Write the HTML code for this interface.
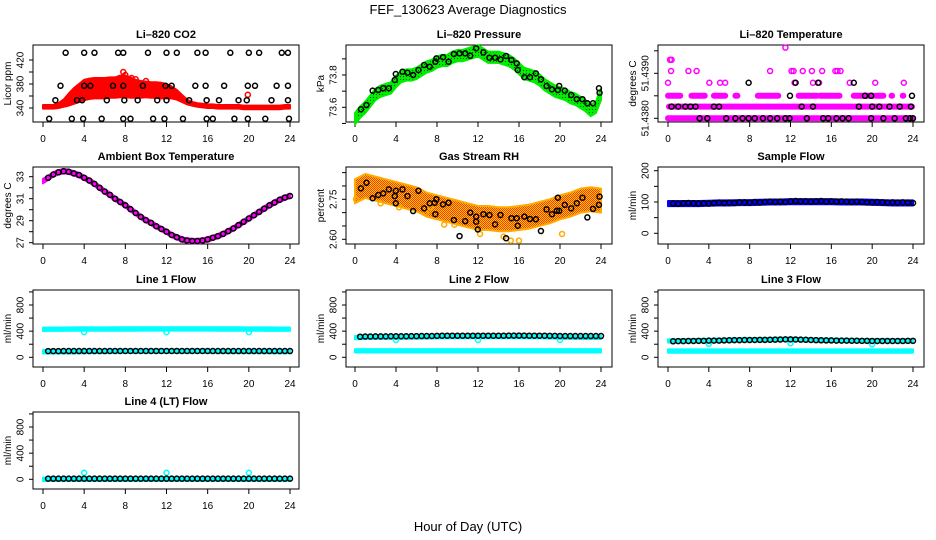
<!DOCTYPE html>
<html><head><meta charset="utf-8"><title>FEF_130623 Average Diagnostics</title>
<style>
html,body{margin:0;padding:0;background:#fff;}
svg{display:block;font-family:"Liberation Sans",Arial,sans-serif;}
</style></head>
<body>
<svg id="chart" width="936" height="540" viewBox="0 0 936 540" xmlns="http://www.w3.org/2000/svg">
<defs>
<pattern id="rhPat" width="2" height="2" patternUnits="userSpaceOnUse"><rect width="2" height="2" fill="#ffcc00"/><rect width="1" height="1" fill="#ff3300"/><rect x="1" y="1" width="1" height="1" fill="#ff3300"/></pattern>
<pattern id="grPat" width="3" height="3" patternUnits="userSpaceOnUse"><rect width="3" height="3" fill="#00ee00"/><rect x="1" y="1" width="1" height="1" fill="#004400"/></pattern>
</defs>
<rect width="936" height="540" fill="#fff"/>
<text x="468" y="14" text-anchor="middle" font-size="13">FEF_130623  Average Diagnostics</text>
<text x="468" y="531" text-anchor="middle" font-size="13">Hour of Day (UTC)</text>
</svg>
<script>
// ---------- data ----------
const xTicks=[0,4,8,12,16,20,24];
const halfHours=Array.from({length:49},(_,i)=>i*0.5);
const hourly=Array.from({length:25},(_,i)=>i);
const blackHours=Array.from({length:48},(_,i)=>0.5+i*0.5);

// CO2
const co2Center=[342,342,342,344,348,354,360,365,370,372,373,373,373,374,374,376,376,374,372,371,371,370,370,369,368,366,362,356,350,347,345,344,343,343,342,342,342,342,342,341,341,341,341,341,341,341,341,342,342];
const co2Spread=[3,3,3,4,6,10,13,15,17,17,17,17,17,17,17,18,18,17,15,14,13,13,13,13,12,10,8,6,4,3,3,3,3,3,3,3,3,3,3,3,3,3,3,3,3,3,3,3,3];
const co2RedOutliers=[[7.8,400],[8.0,395],[9.0,388],[10.0,385],[4.3,362],[12.7,368],[19.9,362],[8.6,390]];
const co2Black=[[2.2,432],[4,432],[5,432],[7.3,432],[7.8,432],[10.2,432],[12,432],[13,432],[15,432],[15.8,432],[18.2,432],[20,432],[21,432],[23.2,432],[23.8,432],
[1.7,377],[4,377],[4.6,377],[6.8,377],[7.8,377],[9.7,377],[11.9,377],[12.5,377],[14.8,377],[15.8,377],[17.6,377],[19.9,377],[20.6,377],[22.7,377],[23.8,377],
[1.2,353],[3.3,353],[3.8,353],[6.2,353],[7.9,353],[9.2,353],[11.1,353],[12,353],[14.2,353],[15.9,353],[17.1,353],[19,353],[19.8,353],[22.2,353],[23.8,353],
[0.6,322],[2.8,322],[3.9,322],[5.7,322],[7.8,322],[8.5,322],[10.7,322],[11.8,322],[13.6,322],[15.9,322],[16.5,322],[18.6,322],[19.9,322],[21.6,322],[23.9,322]];

// Pressure
const presCenter=[73.53,73.57,73.6,73.64,73.68,73.7,73.71,73.72,73.76,73.79,73.8,73.8,73.81,73.83,73.85,73.86,73.88,73.89,73.89,73.91,73.92,73.92,73.93,73.94,73.95,73.93,73.91,73.91,73.91,73.9,73.89,73.87,73.84,73.81,73.8,73.79,73.77,73.74,73.72,73.7,73.69,73.68,73.66,73.65,73.63,73.61,73.58,73.6,73.68];
const presSpread=0.035;
const presBlack=[[0.58,73.588],[1.12,73.614],[1.72,73.703],[2.27,73.707],[2.75,73.718],[3.3,73.718],[3.88,73.769],[3.98,73.806],[4.63,73.82],[5.12,73.814],[5.67,73.8],[6.19,73.831],[6.74,73.862],[7.29,73.851],[7.84,73.882],[7.94,73.903],[8.59,73.91],[9.13,73.882],[9.65,73.93],[10.2,73.934],[10.75,73.934],[11.24,73.919],[11.82,73.965],[12.53,73.94],[13.12,73.907],[13.67,73.907],[14.19,73.897],[14.74,73.918],[15.26,73.893],[15.78,73.872],[15.88,73.831],[16.52,73.786],[17.07,73.786],[17.65,73.81],[18.14,73.773],[18.69,73.732],[19.21,73.711],[19.79,73.707],[19.92,73.732],[20.47,73.703],[21.09,73.676],[21.64,73.65],[22.19,73.65],[22.67,73.625],[23.22,73.625],[23.8,73.718],[23.86,73.69]];

// Li-820 temperature (magenta runs: start, end, value)
const tempRuns=[[0,23.9,51.4380],[0.1,23.9,51.43826],[0,1.2,51.4385],[2.3,3.6,51.4385],[4.5,5.6,51.4385],[6.6,6.8,51.4385],[8.8,10.8,51.4385],[12.8,14.6,51.4385],[14.9,16.8,51.4385],[18.2,20.1,51.4385],[20.4,21.1,51.4385],[21.9,21.95,51.4385],[23.0,23.05,51.4385]];
const tempMagentaPts=[[0,51.43879],[4.05,51.43879],[5.1,51.43879],[5.6,51.43879],[12.4,51.43879],[14.2,51.43879],[14.8,51.43879],[17.8,51.43879],[20.3,51.43879],[23.1,51.43879],
[0.3,51.43905],[2.0,51.43905],[2.8,51.43905],[10.0,51.43905],[12.1,51.43905],[12.3,51.43905],[13.2,51.43905],[14.1,51.43905],[15.1,51.43905],[16.4,51.43905],[16.6,51.43905],[16.9,51.43905],
[0.2,51.4393],[0.35,51.4393],[11.5,51.43957]];
const tempBlack=[[3.1,51.438],[3.85,51.438],[5.7,51.438],[6.6,51.438],[7.3,51.438],[7.9,51.438],[8.5,51.438],[9.3,51.438],[10,51.438],[10.7,51.438],[11.5,51.438],[11.9,51.438],[13.6,51.438],[15.2,51.438],[15.7,51.438],[16.5,51.438],[17.1,51.438],[17.7,51.438],[19.9,51.438],[21.1,51.438],[22.2,51.438],[23.3,51.438],[23.7,51.438],[24,51.438],
[0.35,51.43826],[1.0,51.43826],[1.7,51.43826],[2.2,51.43826],[2.7,51.43826],[4.5,51.43826],[5.0,51.43826],[13.1,51.43826],[14.2,51.43826],[18.7,51.43826],[20,51.43826],[20.7,51.43826],[21.7,51.43826],[22.7,51.43826],[23.8,51.43826],
[11.95,51.4385],[19.3,51.4385],[19.9,51.4385],[23.9,51.4385],
[7.9,51.43879],[12.5,51.43879],[14.7,51.43879],[18.2,51.43879]];

// Ambient box temperature
const ambCenter=[32.6,32.9,33.2,33.4,33.5,33.45,33.3,33.15,32.9,32.65,32.35,32.0,31.65,31.35,31.0,30.7,30.4,30.05,29.7,29.35,29.05,28.8,28.5,28.25,28.0,27.7,27.5,27.3,27.2,27.15,27.15,27.2,27.3,27.45,27.6,27.8,28.05,28.3,28.6,28.9,29.2,29.5,29.8,30.1,30.4,30.65,30.9,31.1,31.25];
const ambSpread=0.2;

// Gas stream RH
const rhCenter=[2.78,2.80,2.79,2.78,2.77,2.76,2.75,2.73,2.72,2.71,2.70,2.69,2.68,2.68,2.675,2.675,2.68,2.685,2.695,2.705,2.72,2.73,2.745,2.75,2.745];
const rhSpread=0.045;
const rhOutliers=[[0.1,2.75],[2.5,2.735],[4.3,2.72],[7.4,2.72],[8.7,2.655],[9.7,2.655],[12.2,2.62],[14.5,2.61],[15.2,2.595],[16.0,2.595],[20.2,2.62],[6.9,2.70]];
const rhBlack=[[0.58,2.791],[1.12,2.812],[1.72,2.754],[2.27,2.766],[2.75,2.772],[3.3,2.787],[3.88,2.762],[3.98,2.782],[3.98,2.735],[4.63,2.787],[5.12,2.762],[5.67,2.706],[6.19,2.782],[6.74,2.716],[7.29,2.735],[7.77,2.737],[7.84,2.694],[7.94,2.75],[8.59,2.731],[9.13,2.737],[9.65,2.672],[10.2,2.612],[10.75,2.668],[11.24,2.70],[11.82,2.685],[11.82,2.666],[11.98,2.637],[12.53,2.694],[13.12,2.691],[13.67,2.656],[14.19,2.691],[14.74,2.604],[15.26,2.679],[15.78,2.679],[15.88,2.651],[16.52,2.685],[17.07,2.676],[17.65,2.675],[18.14,2.631],[18.69,2.712],[19.21,2.694],[19.69,2.707],[19.79,2.756],[19.92,2.707],[20.47,2.729],[21.09,2.716],[21.64,2.735],[22.19,2.756],[22.67,2.682],[23.22,2.714],[23.8,2.729],[23.86,2.76]];

// Sample flow
const sampleBlue=[95,95,95,95,96,97,97,98,98,99,100,100,101,101,101,101,101,100,100,100,99,98,97,97,97];
const sampleSpread=8;
const sampleBlack=[95,94,96,97,96,95,96,95,97,98,97,98,97,99,99,98,100,99,100,101,100,101,100,102,103,102,102,101,102,103,101,102,101,102,101,100,101,100,99,99,100,99,98,99,98,99,98,97];

// Line flows
const flowSpread=26;
const line1CyanA=[428,430,430,432,433,432,432,433,433,433,434,434,434,434,434,434,434,433,433,433,432,432,431,430,430];
const line1CyanB=[85,85,85,85,88,90,90,90,92,92,92,92,92,92,92,92,92,92,90,90,90,90,88,88,88];
const line1Dips=[[4,385],[12,385],[20,385]];
const line1Black=[95,95,95,96,96,96,96,96,96,96,96,96,97,97,97,97,97,97,97,97,97,97,97,97,97,97,97,97,97,97,97,97,96,96,96,96,96,96,96,96,96,96,96,96,96,96,96,96];

const line2CyanA=[300,305,305,305,305,308,310,312,315,315,318,318,318,318,318,318,318,316,315,312,310,308,305,305,305];
const line2CyanB=[100,100,100,100,100,100,100,100,100,100,100,100,100,100,100,100,100,100,100,100,100,100,100,100,100];
const line2Dips=[[4,265],[12,265],[20,265]];
const line2Black=[315,318,318,320,320,320,322,322,322,322,324,324,325,325,326,328,330,330,330,330,330,330,330,330,330,330,330,330,330,332,332,332,332,330,330,330,330,328,328,326,325,325,325,325,325,325,325,325];

const line3CyanA=[250,250,250,255,255,258,262,265,268,270,272,275,275,270,265,262,260,258,255,252,250,250,250,250,250];
const line3CyanB=[95,95,95,95,95,95,95,95,95,95,95,95,95,95,95,95,95,95,95,95,95,95,95,95,95];
const line3Dips=[[4,205],[12,215],[20,200]];
const line3Black=[245,248,248,250,250,252,252,255,255,256,258,260,262,262,264,264,265,266,266,268,270,272,274,275,273,270,268,265,262,260,258,258,256,255,255,254,253,252,252,250,250,250,250,250,250,250,252,252];

const line4Cyan=[0,0,0,0,0,0,0,0,0,0,0,0,0,0,0,0,0,0,0,0,0,0,0,0,0];
const line4Outliers=[[4,100],[12,100],[20,100]];
const line4Black=[10,10,10,10,10,10,10,10,10,10,10,10,10,10,10,10,10,10,10,10,10,10,10,10,10,10,10,10,10,10,10,10,10,10,10,10,10,10,10,10,10,10,10,10,10,10,10,10];

// ---------- drawing ----------
const NS='http://www.w3.org/2000/svg';
const svg=document.getElementById('chart');
function mk(tag,attrs,parent){const e=document.createElementNS(NS,tag);for(const k in attrs)e.setAttribute(k,attrs[k]);(parent||svg).appendChild(e);return e;}
const cols=[{b0:33,b1:299,x0:43,x24:290},{b0:346,b1:612,x0:355,x24:601},{b0:658,b1:924,x0:668,x24:913}];
const rows=[{t:45,b:122},{t:167,b:244},{t:290,b:367},{t:412,b:489}];

function panel(name,title,ylab,ci,ri,d0,p0,d1,p1,yt,yl){
  const c=cols[ci],r=rows[ri];
  const g=mk('g',{});
  
  
  const X=h=>c.x0+h*(c.x24-c.x0)/24;
  const Y=v=>p0+(v-d0)*(p1-p0)/(d1-d0);
  const box=mk('rect',{x:c.b0,y:r.t,width:c.b1-c.b0,height:r.b-r.t,fill:'none',stroke:'#000','stroke-width':1},g);
  
  
  const tt=mk('text',{x:(c.b0+c.b1)/2,y:r.t-7,'text-anchor':'middle','font-size':11,'font-weight':'bold'},g);
  tt.textContent=title;
  
  
  const yx=c.b0-26;
  const yt2=mk('text',{x:yx+4,y:(r.t+r.b)/2,'text-anchor':'middle','font-size':10,transform:`rotate(-90 ${yx+4} ${(r.t+r.b)/2})`},g);
  yt2.textContent=ylab;
  
  
  xTicks.forEach(h=>{
    const l=mk('line',{x1:X(h),x2:X(h),y1:r.b,y2:r.b+5,stroke:'#000'},g);
    
    
    const t=mk('text',{x:X(h),y:r.b+20,'text-anchor':'middle','font-size':10},g);
    t.textContent=String(h);
    
    
  });
  yt.forEach(v=>{
    const l=mk('line',{x1:c.b0-4,x2:c.b0,y1:Y(v),y2:Y(v),stroke:'#000'},g);
    
    
  });
  yl.forEach(([v,s])=>{
    const x=c.b0-13+3.5,y=Y(v);
    const t=mk('text',{x:x,y:y,'text-anchor':'middle','font-size':10,transform:`rotate(-90 ${x} ${y})`},g);
    t.textContent=s;
    
    
  });
  const clip=mk('g',{},g);
  return {g:clip,X,Y};
}
function dot(p,h,v,col,r){
  const c=mk('circle',{cx:p.X(h),cy:p.Y(v),r:r||2.5,fill:'none',stroke:col,'stroke-width':1.5},p.g);
  
  
}
function band(p,xs,vs,half,fill,edge,name){
  const hw=i=>Array.isArray(half)?half[i]:half;
  const up=xs.map((h,i)=>`${p.X(h)},${p.Y(vs[i]+hw(i))}`);
  const lo=xs.map((h,i)=>`${p.X(h)},${p.Y(vs[i]-hw(i))}`).reverse();
  const poly=mk('polygon',{points:up.concat(lo).join(' '),fill:fill,stroke:edge,'stroke-width':2,'stroke-linejoin':'round'},p.g);
  
  
}

// Panel 1: CO2
let p=panel('panel-co2','Li\u2013820 CO2','Licor ppm',0,0,340,108,420,60,[340,360,380,400,420],[[340,'340'],[380,'380'],[420,'420']]);
band(p,halfHours,co2Center,co2Spread,'#ff0000','#ff0000','co2-band');
co2RedOutliers.forEach(([h,v])=>dot(p,h,v,'#ff0000'));
co2Black.forEach(([h,v])=>dot(p,h,v,'#000'));

// Panel 2: Pressure
p=panel('panel-pressure','Li\u2013820 Pressure','kPa',1,0,73.6,107.3,73.8,75,[73.5,73.6,73.7,73.8,73.9],[[73.6,'73.6'],[73.8,'73.8']]);
band(p,halfHours,presCenter,presSpread,'url(#grPat)','#00ee00','pressure-band');
presBlack.forEach(([h,v])=>dot(p,h,v,'#000'));

// Panel 3: Li-820 temperature
p=panel('panel-li820-temperature','Li\u2013820 Temperature','degrees C',2,0,51.438,118.3,51.439,73.3,[51.438,51.4385,51.439,51.4395],[[51.438,'51.4380'],[51.439,'51.4390']]);
tempRuns.forEach(([a,b,v])=>{
  const l=mk('line',{x1:p.X(a),x2:p.X(b),y1:p.Y(v),y2:p.Y(v),stroke:'#ff00ff','stroke-width':6,'stroke-linecap':'round'},p.g);
  
  
});
tempMagentaPts.forEach(([h,v])=>dot(p,h,v,'#ff00ff'));
tempBlack.forEach(([h,v])=>dot(p,h,v,'#000'));

// Panel 4: Ambient
p=panel('panel-ambient-temperature','Ambient Box Temperature','degrees C',0,1,27,242.7,33,176.7,[27,28,29,30,31,32,33],[[27,'27'],[29,'29'],[31,'31'],[33,'33']]);
band(p,halfHours,ambCenter,ambSpread,'#ff00ff','#ff00ff','ambient-band');
halfHours.forEach((h,i)=>{if(i>0)dot(p,h,ambCenter[i],'#000');});

// Panel 5: RH
p=panel('panel-gas-stream-rh','Gas Stream RH','percent',1,1,2.60,239.3,2.75,199.3,[2.60,2.65,2.70,2.75,2.80,2.85],[[2.60,'2.60'],[2.75,'2.75']]);
band(p,hourly,rhCenter,rhSpread,'url(#rhPat)','#ffaa00','rh-band');
rhOutliers.forEach(([h,v])=>dot(p,h,v,'#ffaa00'));
rhBlack.forEach(([h,v])=>dot(p,h,v,'#000'));

// Panel 6: Sample flow
p=panel('panel-sample-flow','Sample Flow','ml/min',2,1,0,233.3,200,170.7,[0,50,100,150,200],[[0,'0'],[100,'100'],[200,'200']]);
band(p,hourly,sampleBlue,sampleSpread,'#0000ff','#0000ff','sample-flow-band');
blackHours.forEach((h,i)=>dot(p,h,sampleBlack[i],'#000'));

// Line flows
const flowTicks=[0,200,400,600,800,1000];
const flowLabels=[[0,'0'],[400,'400'],[800,'800']];
function flowPanel(name,title,ci,ri,cA,cB,dips,blk){
  const r=rows[ri];
  const q=panel(name,title,'ml/min',ci,ri,0,r.t+67.3,800,r.t+15,flowTicks,flowLabels);
  band(q,hourly,cA,flowSpread,'#00ffff','#00ffff','cyan-band');
  if(cB)band(q,hourly,cB,flowSpread,'#00ffff','#00ffff','cyan-band');
  dips.forEach(([h,v])=>dot(q,h,v,'#00ffff'));
  blackHours.forEach((h,i)=>dot(q,h,blk[i],'#000'));
}
flowPanel('panel-line1-flow','Line 1 Flow',0,2,line1CyanA,line1CyanB,line1Dips,line1Black);
flowPanel('panel-line2-flow','Line 2 Flow',1,2,line2CyanA,line2CyanB,line2Dips,line2Black);
flowPanel('panel-line3-flow','Line 3 Flow',2,2,line3CyanA,line3CyanB,line3Dips,line3Black);
flowPanel('panel-line4-flow','Line 4 (LT) Flow',0,3,line4Cyan,null,line4Outliers,line4Black);
</script>
</body></html>
